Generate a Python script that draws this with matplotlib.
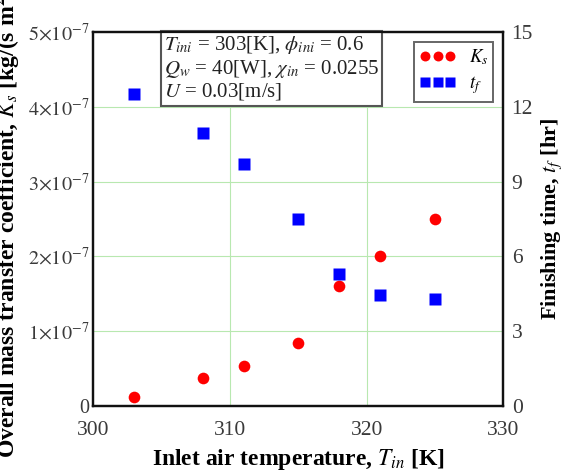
import matplotlib
matplotlib.use("Agg")
import matplotlib.pyplot as plt
from matplotlib.ticker import FixedLocator, FixedFormatter

plt.rcParams['font.family'] = ['Liberation Serif', 'DejaVu Serif']
plt.rcParams['mathtext.fontset'] = 'stix'

# Data
T_in = [303, 308, 311, 315, 318, 321, 325]
Ks = [0.124e-7, 0.37e-7, 0.535e-7, 0.84e-7, 1.6e-7, 2.0e-7, 2.5e-7]
tf = [12.5, 10.94, 9.7, 7.5, 5.3, 4.46, 4.28]

x_ticks = [300, 310, 320, 330]
y_ticks = [0, 1e-7, 2e-7, 3e-7, 4e-7, 5e-7]
y_ticklabels = ['0', r'$1{\times}10^{-7}$', r'$2{\times}10^{-7}$', r'$3{\times}10^{-7}$',
                r'$4{\times}10^{-7}$', r'$5{\times}10^{-7}$']
y2_ticks = [0, 3, 6, 9, 12, 15]

fig = plt.figure(figsize=(5.68, 4.73), dpi=100)
ax = fig.add_axes([93.3/568, 1-406/473, (503.3-93.3)/568, (406-32)/473])
ax2 = ax.twinx()

grid_c = '#b8e8b0'
for xv in x_ticks[1:-1]:
    ax.axvline(xv, color=grid_c, lw=0.8, zorder=0)
for yv in y_ticks[1:-1]:
    ax.axhline(yv, color=grid_c, lw=0.8, zorder=0)

l1, = ax.plot(T_in, Ks, 'o', color='#ff0000', ms=8.4, mec='none', zorder=3)
l2, = ax2.plot(T_in, tf, 's', color='#0000ff', ms=8.4, mec='none', zorder=3)

ax.set_xlim(300, 330)
ax.set_ylim(0, 5e-7)
ax2.set_ylim(0, 15)
ax.xaxis.set_major_locator(FixedLocator(x_ticks))
ax.yaxis.set_major_locator(FixedLocator(y_ticks))
ax.yaxis.set_major_formatter(FixedFormatter(y_ticklabels))
ax2.yaxis.set_major_locator(FixedLocator(y2_ticks))

for a in (ax, ax2):
    a.tick_params(length=0, labelcolor='#3a3a3a')
    for s in a.spines.values():
        s.set_linewidth(1.6)
        s.set_color('#111111')
ax.tick_params(axis='y', pad=3, labelsize=14.5)
ax.tick_params(axis='x', pad=11, labelsize=15.5)
ax2.tick_params(axis='y', pad=6, labelsize=15.5)

ax.set_xlabel(r'Inlet air temperature, $\boldsymbol{T_{in}}$ [K]', fontsize=17,
              fontweight='bold', labelpad=5)
ax.set_ylabel(r'Overall mass transfer coefficient, $\boldsymbol{K_s}$ [kg/(s m$^\mathbf{2}$)]',
              fontsize=17, fontweight='bold', labelpad=5)
ax2.set_ylabel(r'Finishing time, $\boldsymbol{t_f}$ [hr]', fontsize=16,
               fontweight='bold', labelpad=5)

txt = (r'$T_{ini}$ = 303[K], $\phi_{ini}$ = 0.6' + '\n' +
       r'$Q_w$ = 40[W], $\chi_{in}$ = 0.0255' + '\n' +
       r'$U$ = 0.03[m/s]')
ax.text(0.172, 0.994, txt, transform=ax.transAxes, fontsize=15, va='top', ha='left',
        linespacing=1.1, color='#222222',
        bbox=dict(boxstyle='square,pad=0.15', fc='white', ec='#555555', lw=1.5), zorder=5)

leg = ax2.legend([l1, l2], [r'$K_s$', r'$t_f$'], loc='upper right',
                 bbox_to_anchor=(0.976, 0.973), numpoints=3, fontsize=13.5,
                 fancybox=False, framealpha=1, edgecolor='#666666',
                 handlelength=1.9, handletextpad=0.7, markerscale=0.85,
                 borderpad=0.3, labelspacing=0.35, borderaxespad=0)
leg.get_frame().set_linewidth(1.4)

fig.savefig('out.png', dpi=100)
